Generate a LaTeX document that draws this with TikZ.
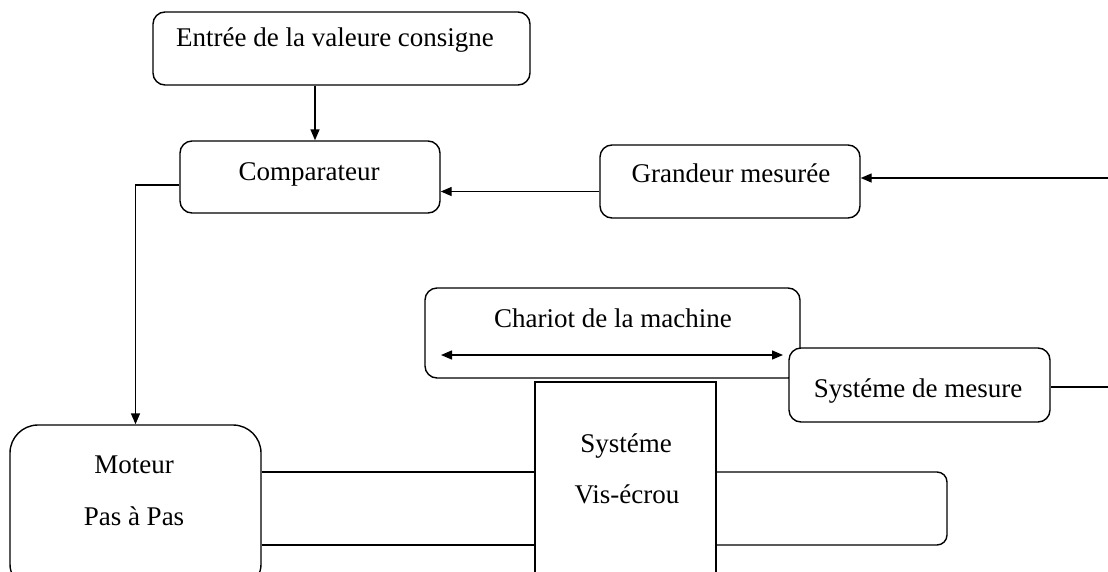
\documentclass[tikz,border=0pt]{standalone}
\usepackage{fontspec}
\setmainfont{Liberation Serif}
\usetikzlibrary{arrows.meta,calc}
\begin{document}
\begin{tikzpicture}[x=1pt,y=-1pt,
 box/.style={draw, line width=1.4pt, rounded corners=12pt, inner sep=0pt, fill=white},
 lbl/.style={anchor=base, inner sep=0pt, font=\fontsize{27}{32}\selectfont},
 conn/.style={line width=1.4pt},
 arr/.style={conn, -{Triangle[length=11pt,width=9pt]}},
 darr/.style={conn, {Triangle[length=11pt,width=9pt]}-{Triangle[length=11pt,width=9pt]}}]
\useasboundingbox (0,0) rectangle (1108,571);
\clip (0,0) rectangle (1108,571);
% boxes
\node[box, minimum width=377pt, minimum height=73pt] (entree) at (341.5,48.5) {};
\node[box, minimum width=260pt, minimum height=72pt] (comp) at (310,177) {};
\node[box, minimum width=260pt, minimum height=73pt] (grandeur) at (730,181.5) {};
\node[box, minimum width=375pt, minimum height=90pt] (chariot) at (612.5,333) {};
\node[box, minimum width=261pt, minimum height=74pt] (mesure) at (919.5,385) {};
\node[box, rounded corners=28pt, minimum width=251pt, minimum height=167pt] (moteur) at (135.5,508.5) {};
\node[box, rounded corners=0pt, minimum width=181pt, minimum height=218pt] (vis) at (625.5,491) {};
% texts
\node[lbl] (t-entree) at (335,46) {Entrée de la valeure consigne};
\node[lbl] (t-comp) at (309,180) {Comparateur};
\node[lbl] (t-grandeur) at (731,182) {Grandeur mesurée};
\node[lbl] (t-chariot) at (613,327) {Chariot de la machine};
\node[lbl] (t-mesure) at (918,397) {Systéme de mesure};
\node[lbl] (t-moteur1) at (134,473) {Moteur};
\node[lbl] (t-moteur2) at (134,525) {Pas à Pas};
\node[lbl] (t-vis1) at (626,452) {Systéme};
\node[lbl] (t-vis2) at (627,503) {Vis-écrou};
% coordinates
\coordinate (g1) at ([yshift=-10pt]grandeur.west);
\coordinate (inR) at (1108,178);
\coordinate (l1) at (0,472);
\coordinate (l2) at (0,545);
\coordinate (loopR) at (947,0);
\coordinate (ca) at (441,355);
\coordinate (cb) at (783,355);
\coordinate (e1) at ([xshift=-26.5pt]entree.south);
\coordinate (c1) at ([yshift=-8pt]comp.west);
\coordinate (outR) at (1108,387);
% connectors
\draw[arr] (e1) -- (e1 |- comp.north);
\draw[arr] (c1) -| (moteur.north);
\draw[arr] (g1) -- (g1 -| comp.east);
\draw[arr] (inR) -- (inR -| grandeur.east);
\draw[conn] (mesure.east |- outR) -- (outR);
\draw[darr] (ca) -- (cb);
\draw[conn] (l1 -| moteur.east) -- (l1 -| vis.west);
\draw[conn] (l2 -| moteur.east) -- (l2 -| vis.west);
\draw[conn, rounded corners=10pt] (l1 -| vis.east) -- (l1 -| loopR) -- (l2 -| loopR) -- (l2 -| vis.east);
\end{tikzpicture}
\end{document}
